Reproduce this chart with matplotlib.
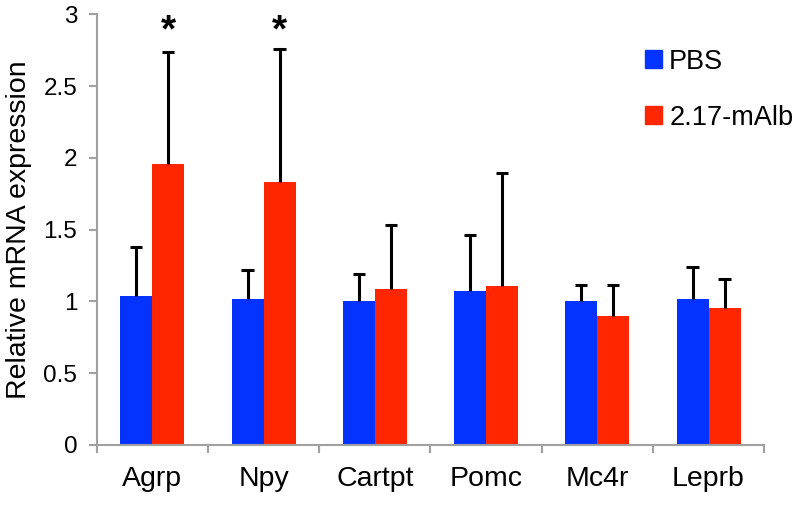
import numpy as np
import matplotlib.pyplot as plt
from matplotlib.patches import Patch

plt.rcParams['font.family'] = ['Liberation Sans', 'DejaVu Sans']

# =========================
# DATA
# =========================

genes = ['Agrp', 'Npy', 'Cartpt', 'Pomc', 'Mc4r', 'Leprb']
pbs_mean = [1.04, 1.02, 1.005, 1.07, 1.003, 1.02]
pbs_err = [0.34, 0.20, 0.185, 0.39, 0.11, 0.22]
alb_mean = [1.955, 1.83, 1.09, 1.107, 0.90, 0.952]
alb_err = [0.785, 0.93, 0.44, 0.787, 0.214, 0.202]
significant = [True, True, False, False, False, False]

blue = '#0433FF'
red = '#FF2600'
grey = '#A0A0A0'

# =========================
# FIGURE
# =========================

fig = plt.figure(figsize=(7.96, 5.07), dpi=100)
ax = fig.add_axes([0.1215, 0.1223, 0.8385, 0.8495])

x = np.arange(len(genes))
w = 0.288
cap = 0.055

ax.bar(x - w / 2, pbs_mean, w, color=blue, zorder=2)
ax.bar(x + w / 2, alb_mean, w, color=red, zorder=2)

# upper error bars only, with a cap on top
for xs, means, errs in [(x - w / 2, pbs_mean, pbs_err),
                        (x + w / 2, alb_mean, alb_err)]:
    tops = np.array(means) + np.array(errs)
    ax.vlines(xs, means, tops, color='black', linewidth=2.2, zorder=3)
    ax.hlines(tops, xs - cap, xs + cap, color='black', linewidth=2.2, zorder=3)

for i, sig in enumerate(significant):
    if sig:
        ax.text(x[i] + w / 2, 2.88, '*', ha='center', va='center',
                fontsize=28, fontweight='bold')

# =========================
# AXES STYLE
# =========================

ax.set_xlim(-0.5, len(genes) - 0.5)
ax.set_ylim(0, 3)

ax.set_yticks([0, 0.5, 1, 1.5, 2, 2.5, 3])
ax.set_yticklabels(['0', '0.5', '1', '1.5', '2', '2.5', '3'])

ax.set_xticks(np.arange(len(genes) + 1) - 0.5)
ax.set_xticklabels([])
ax.set_xticks(x, minor=True)
ax.set_xticklabels(genes, minor=True)

ax.tick_params(axis='y', length=6, width=1.5, color=grey,
               labelsize=17.5, pad=8)
ax.tick_params(axis='x', which='major', length=6, width=1.5, color=grey)
ax.tick_params(axis='x', which='minor', length=0, labelsize=20.5, pad=15)

for side in ['top', 'right']:
    ax.spines[side].set_visible(False)
for side in ['left', 'bottom']:
    ax.spines[side].set_color(grey)
    ax.spines[side].set_linewidth(1.5)

ax.set_ylabel('Relative mRNA expression', fontsize=20.5, labelpad=8)

handles = [Patch(color=blue), Patch(color=red)]
ax.legend(handles, ['PBS', '2.17-mAlb'], loc='upper left',
          bbox_to_anchor=(0.805, 0.945), frameon=False, fontsize=19.5,
          handlelength=0.65, handleheight=0.65, handletextpad=0.25,
          labelspacing=1.1, borderaxespad=0)

plt.savefig('out.png', dpi=100)
plt.close()
